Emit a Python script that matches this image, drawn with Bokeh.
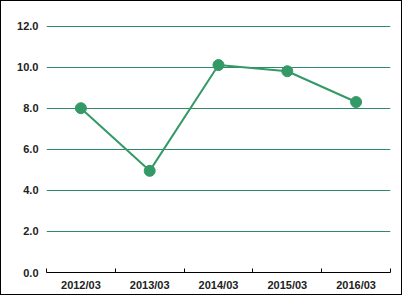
from bokeh.plotting import figure
from bokeh.models import FixedTicker, Range1d, ColumnDataSource
from bokeh.embed import file_html
from bokeh.resources import INLINE

categories = ["2012/03", "2013/03", "2014/03", "2015/03", "2016/03"]
values = [8.0, 4.95, 10.1, 9.8, 8.3]
y_ticks = [0, 2, 4, 6, 8, 10, 12]

xs = [i + 0.5 for i in range(len(categories))]
src = ColumnDataSource(dict(x=xs, y=values, cat=categories))

p = figure(width=402, height=295, output_backend="svg", toolbar_location=None,
           x_range=Range1d(0, len(categories)), y_range=Range1d(0, 13),
           min_border_left=45, min_border_right=13, min_border_top=4, min_border_bottom=24)
p.title.visible = False
p.styles = {"border": "1px solid black", "box-sizing": "border-box"}
p.outline_line_color = None
p.background_fill_color = "white"
p.border_fill_color = "white"

# horizontal grid lines
p.xgrid.grid_line_color = None
p.ygrid.grid_line_color = None
p.hspan(y=y_ticks[1:], line_color="#2e8a66", line_width=1.2)

p.line("x", "y", source=src, line_color="#339966", line_width=2)
p.scatter("x", "y", source=src, size=11, fill_color="#339966", line_color="#339966")

# x axis
xa = p.xaxis[0]
xa.ticker = FixedTicker(ticks=xs, minor_ticks=list(range(len(categories) + 1)))
xa.major_label_overrides = {x: c for x, c in zip(xs, categories)}
xa.major_tick_line_color = None
xa.major_tick_out = 0
xa.major_tick_in = 0
xa.minor_tick_in = 4
xa.minor_tick_out = 0
xa.minor_tick_line_color = "black"
xa.axis_line_color = "black"
xa.major_label_text_font = "Liberation Sans"
xa.major_label_text_font_style = "bold"
xa.major_label_text_font_size = "11px"
xa.major_label_text_color = "#222222"
xa.major_label_standoff = 6

# y axis
ya = p.yaxis[0]
ya.ticker = FixedTicker(ticks=y_ticks)
ya.major_label_overrides = {t: f"{t:.1f}" for t in y_ticks}
ya.axis_line_color = None
ya.major_tick_line_color = None
ya.major_tick_out = 0
ya.major_tick_in = 0
ya.minor_tick_line_color = None
ya.major_label_text_font = "Liberation Sans"
ya.major_label_text_font_style = "bold"
ya.major_label_text_font_size = "11px"
ya.major_label_text_color = "#222222"
ya.major_label_standoff = 8

open("out.html", "w").write(file_html(p, INLINE))
